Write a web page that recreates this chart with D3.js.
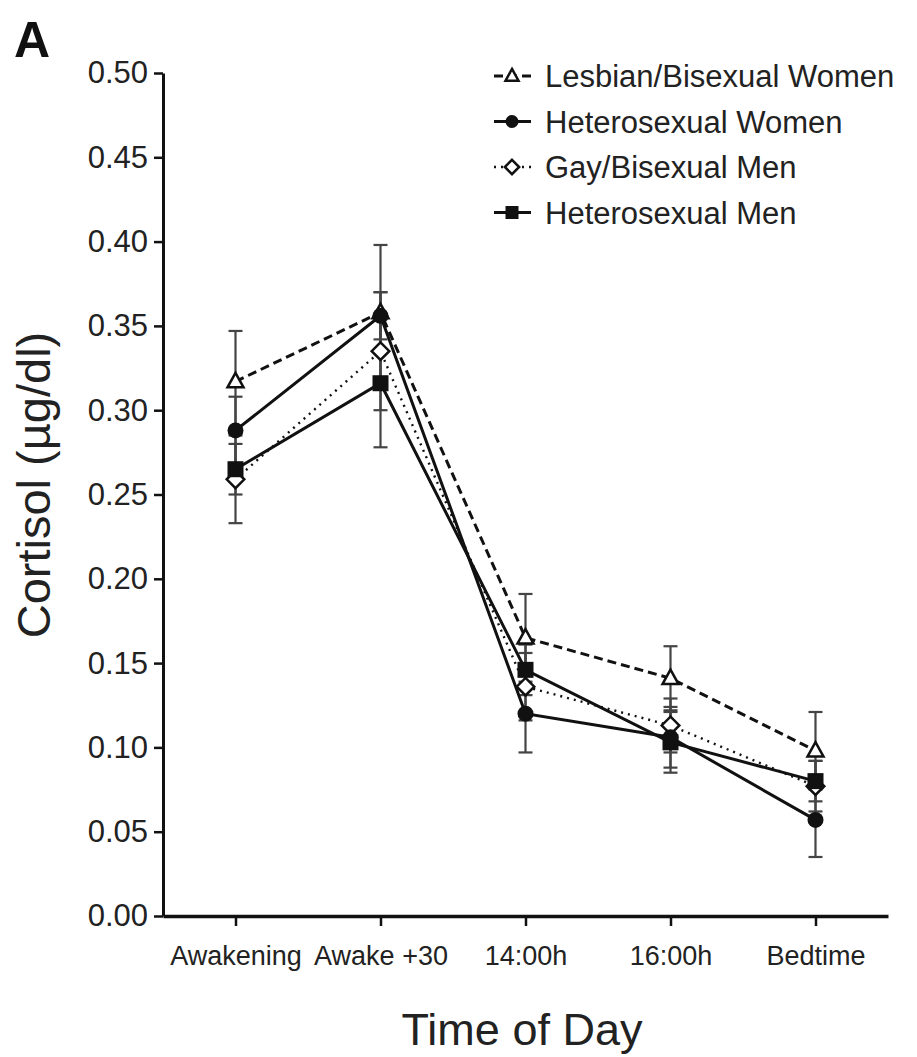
<!DOCTYPE html>
<html>
<head>
<meta charset="utf-8">
<script src="https://cdn.jsdelivr.net/npm/d3@7"></script>
<style>
  html, body { margin: 0; padding: 0; background: #fff; }
  svg { display: block; font-family: "Liberation Sans", Arial, Helvetica, sans-serif; }
</style>
</head>
<body>
<svg id="chart" width="917" height="1057"></svg>
<script>
const categories = ["Awakening", "Awake +30", "14:00h", "16:00h", "Bedtime"];
const yTickValues = [0.00, 0.05, 0.10, 0.15, 0.20, 0.25, 0.30, 0.35, 0.40, 0.45, 0.50];
const seriesNames = ["Lesbian/Bisexual Women", "Heterosexual Women", "Gay/Bisexual Men", "Heterosexual Men"];

const lesbianWomen    = [0.317, 0.358, 0.165, 0.141, 0.098];
const lesbianWomenErr = [0.030, 0.040, 0.026, 0.019, 0.023];
const heteroWomen     = [0.288, 0.356, 0.120, 0.106, 0.057];
const heteroWomenErr  = [0.020, 0.014, 0.023, 0.018, 0.022];
const gayMen          = [0.259, 0.335, 0.136, 0.113, 0.077];
const gayMenErr       = [0.026, 0.035, 0.020, 0.016, 0.015];
const heteroMen       = [0.265, 0.316, 0.146, 0.103, 0.080];
const heteroMenErr    = [0.015, 0.038, 0.015, 0.018, 0.012];

const styles = {
  "Lesbian/Bisexual Women": { dash: "9,5", width: 3, marker: "triangle" },
  "Heterosexual Women":     { dash: null,  width: 3, marker: "circle" },
  "Gay/Bisexual Men":       { dash: "2,5", width: 2.4, marker: "diamond" },
  "Heterosexual Men":       { dash: null,  width: 3, marker: "square" }
};

const series = [
  { name: seriesNames[0], values: lesbianWomen, err: lesbianWomenErr },
  { name: seriesNames[1], values: heteroWomen, err: heteroWomenErr },
  { name: seriesNames[2], values: gayMen, err: gayMenErr },
  { name: seriesNames[3], values: heteroMen, err: heteroMenErr }
];
const drawOrder = [seriesNames[0], seriesNames[2], seriesNames[1], seriesNames[3]];

const svg = d3.select("#chart");
const x = d3.scalePoint().domain(categories).range([163, 888]).padding(0.5);
const y = d3.scaleLinear().domain([0, 0.5]).range([916, 73]);

svg.append("text").attr("x", 14).attr("y", 57)
  .attr("font-size", 50).attr("font-weight", "bold").attr("fill", "#111").text("A");

const yAxis = svg.append("g").attr("transform", "translate(163,0)")
  .call(d3.axisLeft(y).tickValues(yTickValues).tickFormat(d3.format(".2f")).tickSize(9).tickSizeOuter(0).tickPadding(6));
yAxis.select(".domain").attr("stroke", "#111").attr("stroke-width", 3);
yAxis.selectAll(".tick line").attr("stroke", "#111").attr("stroke-width", 2.5);
yAxis.selectAll(".tick text").attr("font-size", 31).attr("fill", "#222").attr("font-family", "Liberation Sans, Arial, sans-serif");

const xAxis = svg.append("g").attr("transform", "translate(0,916)")
  .call(d3.axisBottom(x).tickSize(10).tickSizeOuter(0).tickPadding(20));
xAxis.select(".domain").attr("stroke", "#111").attr("stroke-width", 3.5);
xAxis.selectAll(".tick line").attr("stroke", "#111").attr("stroke-width", 2.5);
xAxis.selectAll(".tick text").attr("font-size", 27).attr("fill", "#222").attr("font-family", "Liberation Sans, Arial, sans-serif");

svg.append("text").attr("transform", "translate(50,485) rotate(-90)")
  .attr("text-anchor", "middle").attr("font-size", 47).attr("fill", "#222").text("Cortisol (µg/dl)");
svg.append("text").attr("x", 522).attr("y", 1045)
  .attr("text-anchor", "middle").attr("font-size", 45).attr("fill", "#222").text("Time of Day");

const eb = svg.append("g");
series.forEach(s => {
  s.values.forEach((v, i) => {
    const cx = x(categories[i]);
    const y1 = y(v + s.err[i]), y0 = y(v - s.err[i]);
    eb.append("line").attr("x1", cx).attr("x2", cx).attr("y1", y1).attr("y2", y0)
      .attr("stroke", "#444").attr("stroke-width", 2.2);
    [y1, y0].forEach(yy => eb.append("line").attr("x1", cx - 7).attr("x2", cx + 7)
      .attr("y1", yy).attr("y2", yy).attr("stroke", "#444").attr("stroke-width", 2.2));
  });
});

const line = d3.line().x((d, i) => x(categories[i])).y(d => y(d));
series.forEach(s => {
  const st = styles[s.name];
  svg.append("path").datum(s.values).attr("d", line)
    .attr("fill", "none").attr("stroke", "#111")
    .attr("stroke-width", st.width)
    .attr("stroke-dasharray", st.dash);
});

function drawMarker(g, type, cx, cy, size) {
  if (type === "circle") {
    g.append("circle").attr("cx", cx).attr("cy", cy).attr("r", size * 0.5).attr("fill", "#111");
  } else if (type === "square") {
    g.append("rect").attr("x", cx - size / 2).attr("y", cy - size / 2)
      .attr("width", size).attr("height", size).attr("fill", "#111");
  } else if (type === "triangle") {
    const h = size * 0.9, w = size;
    g.append("path").attr("d", `M${cx},${cy - h * 0.6}L${cx + w / 2},${cy + h * 0.4}L${cx - w / 2},${cy + h * 0.4}Z`)
      .attr("fill", "#fff").attr("stroke", "#111").attr("stroke-width", 2.5);
  } else if (type === "diamond") {
    const r = size * 0.55;
    g.append("path").attr("d", `M${cx},${cy - r}L${cx + r},${cy}L${cx},${cy + r}L${cx - r},${cy}Z`)
      .attr("fill", "#fff").attr("stroke", "#111").attr("stroke-width", 2.5);
  }
}

const mg = svg.append("g");
drawOrder.forEach(name => {
  const s = series.find(d => d.name === name);
  s.values.forEach((v, i) => drawMarker(mg, styles[name].marker, x(categories[i]), y(v), 16));
});

const legend = svg.append("g");
seriesNames.forEach((name, i) => {
  const cy = 76 + i * 45.5;
  const st = styles[name];
  legend.append("line").attr("x1", 494).attr("x2", 531).attr("y1", cy).attr("y2", cy)
    .attr("stroke", "#111").attr("stroke-width", st.width).attr("stroke-dasharray", st.dash);
  drawMarker(legend, st.marker, 512, cy, 13);
  legend.append("text").attr("x", 545).attr("y", cy + 11)
    .attr("font-size", 31).attr("fill", "#222").text(name);
});
</script>
</body>
</html>
